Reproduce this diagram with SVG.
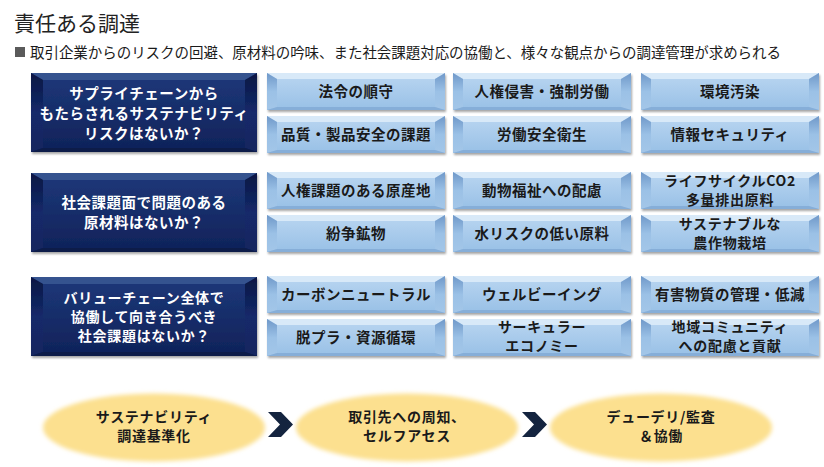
<svg xmlns="http://www.w3.org/2000/svg" xmlns:xlink="http://www.w3.org/1999/xlink" width="824" height="467" viewBox="0 0 824 467">
<defs>
<style>
.t{font-family:"Noto Sans CJK JP","Noto Sans",sans-serif;}
.title{font-size:21px;fill:#222;}
.sub{font-size:14.5px;fill:#1a1a1a;}
.lt{font-size:14.5px;font-weight:bold;fill:#1a1a1a;text-anchor:middle;letter-spacing:0.5px;}
.lt2{font-size:14px;font-weight:bold;fill:#1a1a1a;text-anchor:middle;letter-spacing:0.7px;}
.dt{font-size:14.5px;font-weight:bold;fill:#ffffff;text-anchor:middle;letter-spacing:0.5px;}
.dt2{font-size:14px;font-weight:bold;fill:#ffffff;text-anchor:middle;letter-spacing:0.7px;}
.et{font-size:14px;font-weight:bold;fill:#1a1a1a;text-anchor:middle;letter-spacing:0.7px;}
.ell{fill:#FCE08F;filter:url(#soft);}
.chev{fill:#14243F;}
</style>
<filter id="sh" x="-5%" y="-10%" width="110%" height="130%">
<feDropShadow dx="1" dy="2" stdDeviation="1.3" flood-color="#000" flood-opacity="0.35"/>
</filter>
<filter id="soft" x="-10%" y="-20%" width="120%" height="140%">
<feGaussianBlur stdDeviation="2.2"/>
</filter>
<linearGradient id="lface" x1="0" y1="0" x2="0" y2="1">
<stop offset="0" stop-color="#BAD6F1"/>
<stop offset="1" stop-color="#98C0E6"/>
</linearGradient>
<linearGradient id="lside" x1="0" y1="0" x2="0" y2="1">
<stop offset="0" stop-color="#6F98C9"/>
<stop offset="0.5" stop-color="#9BC1E6"/>
<stop offset="1" stop-color="#A3C6E8"/>
</linearGradient>
<linearGradient id="dface" x1="0" y1="0" x2="0" y2="1">
<stop offset="0" stop-color="#1E387A"/>
<stop offset="1" stop-color="#0F2259"/>
</linearGradient>
<linearGradient id="dside" x1="0" y1="0" x2="0" y2="1">
<stop offset="0" stop-color="#091743"/>
<stop offset="0.5" stop-color="#14296A"/>
<stop offset="1" stop-color="#13275F"/>
</linearGradient>
<g id="lb">
<rect x="0" y="0" width="178" height="37" fill="url(#lface)"/>
<polygon points="0,0 178,0 168,6 10,6" fill="#D8E9F8"/>
<polygon points="0,0 10,6 10,34 0,37" fill="url(#lside)"/>
<polygon points="178,0 168,6 168,34 178,37" fill="url(#lside)"/>
<polygon points="0,37 10,34 168,34 178,37" fill="#86AED8"/>
</g>
<g id="db">
<rect x="0" y="0" width="226" height="79" fill="url(#dface)"/>
<polygon points="0,0 226,0 214,7 12,7" fill="#36528F"/>
<polygon points="0,0 12,7 12,75 0,79" fill="url(#dside)"/>
<polygon points="226,0 214,7 214,75 226,79" fill="url(#dside)"/>
<polygon points="0,79 12,75 214,75 226,79" fill="#0A1A48"/>
</g>
</defs>
<rect width="824" height="467" fill="#ffffff"/>

<g id="header">
<text class="t title" x="14" y="31">責任ある調達</text>
<rect x="15" y="47" width="10" height="10" fill="#5a5a5a"/>
<text class="t sub" x="30" y="58" textLength="751" lengthAdjust="spacing">取引企業からのリスクの回避、原材料の吟味、また社会課題対応の協働と、様々な観点からの調達管理が求められる</text>
</g>

<g id="row1">
<g id="q1"><use href="#db" x="31" y="73" filter="url(#sh)"/>
<text class="t dt" x="144" y="98.5">サプライチェーンから</text>
<text class="t dt" x="144" y="118.5">もたらされるサステナビリティ</text>
<text class="t dt" x="144" y="138.5">リスクはないか？</text></g>
<g id="r1a"><use href="#lb" x="267" y="73" filter="url(#sh)"/><text class="t lt" x="356" y="97">法令の順守</text></g>
<g id="r1b"><use href="#lb" x="453" y="73" filter="url(#sh)"/><text class="t lt" x="542" y="97">人権侵害・強制労働</text></g>
<g id="r1c"><use href="#lb" x="641" y="73" filter="url(#sh)"/><text class="t lt" x="730" y="97">環境汚染</text></g>
<g id="r1d"><use href="#lb" x="267" y="116" filter="url(#sh)"/><text class="t lt" x="356" y="140">品質・製品安全の課題</text></g>
<g id="r1e"><use href="#lb" x="453" y="116" filter="url(#sh)"/><text class="t lt" x="542" y="140">労働安全衛生</text></g>
<g id="r1f"><use href="#lb" x="641" y="116" filter="url(#sh)"/><text class="t lt" x="730" y="140">情報セキュリティ</text></g>
</g>

<g id="row2">
<g id="q2"><use href="#db" x="31" y="173" filter="url(#sh)"/>
<text class="t dt" x="144" y="208">社会課題面で問題のある</text>
<text class="t dt" x="144" y="228">原材料はないか？</text></g>
<g id="r2a"><use href="#lb" x="267" y="172" filter="url(#sh)"/><text class="t lt" x="356" y="196">人権課題のある原産地</text></g>
<g id="r2b"><use href="#lb" x="453" y="172" filter="url(#sh)"/><text class="t lt" x="542" y="196">動物福祉への配慮</text></g>
<g id="r2c"><use href="#lb" x="641" y="172" filter="url(#sh)"/><text class="t lt2" x="730" y="185.5">ライフサイクルCO2</text><text class="t lt2" x="730" y="204.5">多量排出原料</text></g>
<g id="r2d"><use href="#lb" x="267" y="215" filter="url(#sh)"/><text class="t lt" x="356" y="239">紛争鉱物</text></g>
<g id="r2e"><use href="#lb" x="453" y="215" filter="url(#sh)"/><text class="t lt" x="542" y="239">水リスクの低い原料</text></g>
<g id="r2f"><use href="#lb" x="641" y="215" filter="url(#sh)"/><text class="t lt2" x="730" y="229">サステナブルな</text><text class="t lt2" x="730" y="248">農作物栽培</text></g>
</g>

<g id="row3">
<g id="q3"><use href="#db" x="31" y="277" filter="url(#sh)"/>
<text class="t dt2" x="144" y="303">バリューチェーン全体で</text>
<text class="t dt2" x="144" y="322">協働して向き合うべき</text>
<text class="t dt2" x="144" y="341">社会課題はないか？</text></g>
<g id="r3a"><use href="#lb" x="267" y="276" filter="url(#sh)"/><text class="t lt" x="356" y="300">カーボンニュートラル</text></g>
<g id="r3b"><use href="#lb" x="453" y="276" filter="url(#sh)"/><text class="t lt" x="542" y="300">ウェルビーイング</text></g>
<g id="r3c"><use href="#lb" x="641" y="276" filter="url(#sh)"/><text class="t lt" x="730" y="300">有害物質の管理・低減</text></g>
<g id="r3d"><use href="#lb" x="267" y="319" filter="url(#sh)"/><text class="t lt" x="356" y="343">脱プラ・資源循環</text></g>
<g id="r3e"><use href="#lb" x="453" y="319" filter="url(#sh)"/><text class="t lt2" x="542" y="332">サーキュラー</text><text class="t lt2" x="542" y="351">エコノミー</text></g>
<g id="r3f"><use href="#lb" x="641" y="319" filter="url(#sh)"/><text class="t lt2" x="730" y="332">地域コミュニティ</text><text class="t lt2" x="730" y="351">への配慮と貢献</text></g>
</g>

<g id="step1"><ellipse class="ell" cx="154" cy="427.5" rx="111" ry="34"/>
<text class="t et" x="154" y="422">サステナビリティ</text><text class="t et" x="154" y="441">調達基準化</text></g>
<g id="step2"><ellipse class="ell" cx="407" cy="427.5" rx="111" ry="34"/>
<text class="t et" x="407" y="422">取引先への周知、</text><text class="t et" x="407" y="441">セルフアセス</text></g>
<g id="step3"><ellipse class="ell" cx="661" cy="427.5" rx="111" ry="34"/>
<text class="t et" x="661" y="422">デューデリ/監査</text><text class="t et" x="661" y="441">＆協働</text></g>

<g id="connectors">
<polygon class="chev" points="268,412 281,412 293,424.5 281,437 268,437 280,424.5"/>
<polygon class="chev" points="522,412 535,412 547,424.5 535,437 522,437 534,424.5"/>
</g>
</svg>
